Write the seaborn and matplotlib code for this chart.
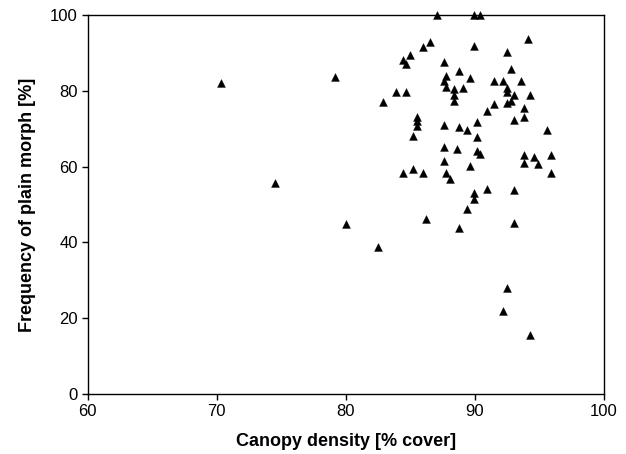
import matplotlib
matplotlib.use("Agg")
import matplotlib.pyplot as plt
import seaborn as sns
import pandas as pd

canopy_density = [
    70.3, 74.5, 79.2, 80.0, 82.5, 82.9, 83.9, 84.7, 84.4, 84.7,
    85.0, 86.0, 86.5, 87.05, 89.9, 90.4, 89.9, 87.6, 88.8, 87.8,
    89.6, 87.6, 87.8, 88.4, 89.1, 88.4, 88.4, 90.9, 90.15, 85.5,
    85.5, 85.5, 87.6, 88.8, 89.4, 90.15, 85.2, 87.6, 88.6, 90.15,
    90.4, 87.6, 89.6, 84.4, 85.2, 86.0, 87.8, 88.1, 90.95, 89.9,
    89.9, 89.4, 86.2, 88.8, 94.1, 92.5, 92.8, 91.5, 92.2, 93.55,
    92.5, 92.5, 93.0, 94.3, 92.8, 92.5, 91.5, 93.8, 93.8, 93.0,
    95.6, 93.8, 93.8, 94.6, 94.85, 95.9, 95.9, 93.0, 93.0, 92.5,
    92.2, 94.3,
]
plain_morph_freq = [
    82.1, 55.8, 83.6, 44.9, 38.9, 77.1, 79.6, 79.6, 88.1, 87.2,
    89.4, 91.6, 93.0, 100.0, 100.0, 100.0, 91.8, 87.7, 85.2, 83.9,
    83.3, 82.7, 80.9, 80.5, 80.7, 78.9, 77.4, 74.7, 71.8, 73.2,
    72.0, 70.8, 71.0, 70.5, 69.7, 67.7, 68.1, 65.1, 64.6, 64.2,
    63.2, 61.6, 60.2, 58.4, 59.5, 58.4, 58.2, 56.8, 54.1, 53.1,
    51.4, 48.7, 46.2, 43.7, 93.6, 90.3, 85.7, 82.7, 82.7, 82.7,
    80.7, 79.6, 78.9, 78.9, 77.4, 76.7, 76.5, 75.4, 73.2, 72.3,
    69.7, 63.1, 60.9, 62.6, 60.6, 63.1, 58.2, 53.8, 45.0, 28.1,
    22.0, 15.6,
]
x_ticks = [60, 70, 80, 90, 100]
y_ticks = [0, 20, 40, 60, 80, 100]

sns.set_style("ticks")
plt.rcParams["font.family"] = ["Liberation Sans", "DejaVu Sans"]
plt.rcParams["text.color"] = "black"
plt.rcParams["axes.labelcolor"] = "black"
plt.rcParams["xtick.color"] = "black"
plt.rcParams["ytick.color"] = "black"

df = pd.DataFrame({"x": canopy_density, "y": plain_morph_freq})

fig = plt.figure(figsize=(6.26, 4.54), dpi=100)
ax = fig.add_axes([0.1398, 0.132, 0.9649 - 0.1398, 0.967 - 0.132])
sns.scatterplot(data=df, x="x", y="y", marker="^", color="black",
                edgecolor="black", s=32, linewidth=0.3, ax=ax, clip_on=False,
                zorder=3)

ax.set_xlim(60, 100)
ax.set_ylim(0, 100)
ax.set_xticks(x_ticks)
ax.set_yticks(y_ticks)
ax.tick_params(axis="both", direction="out", length=4, width=1,
               colors="black", labelcolor="black", labelsize=12, pad=3)
for side in ["left", "bottom", "top", "right"]:
    ax.spines[side].set_visible(True)
    ax.spines[side].set_color("black")
    ax.spines[side].set_linewidth(1.0)

ax.set_xlabel("Canopy density [% cover]", fontsize=13, fontweight="bold",
              labelpad=10, color="black")
ax.set_ylabel("Frequency of plain morph [%]", fontsize=13,
              fontweight="bold", labelpad=10, color="black")

fig.savefig("out.png", dpi=100)
